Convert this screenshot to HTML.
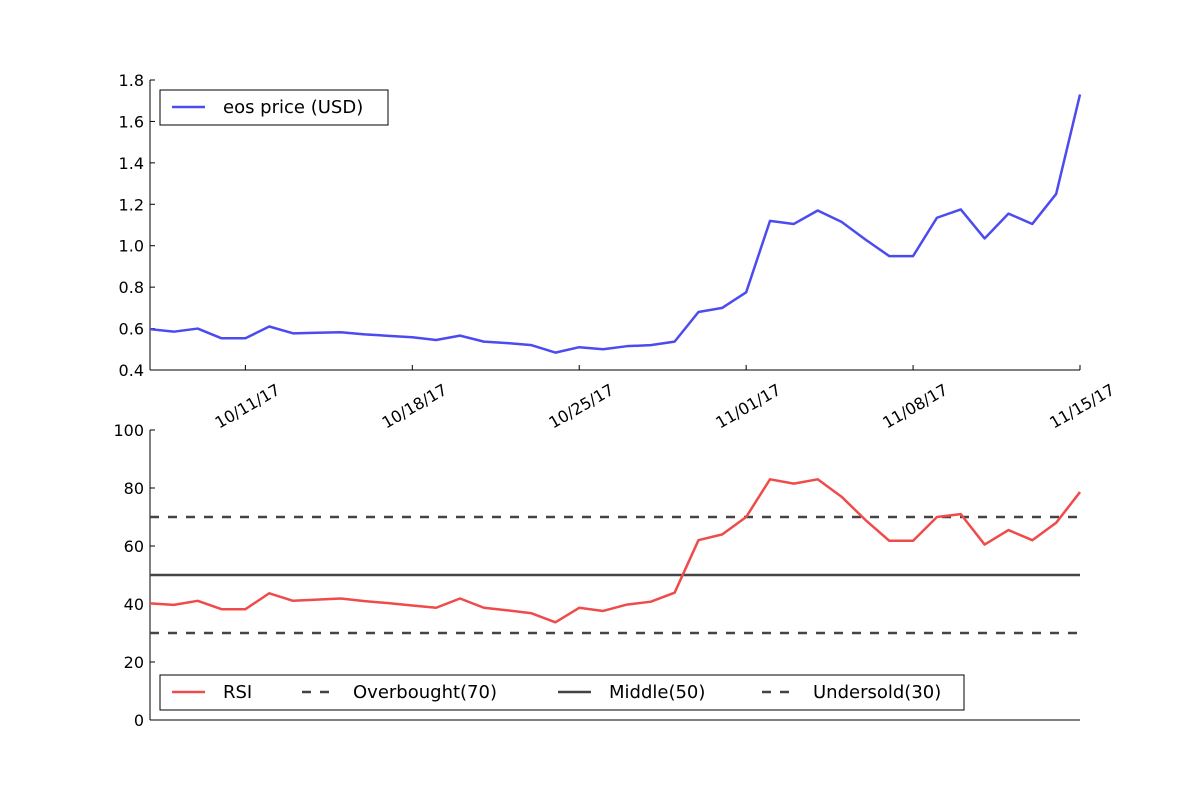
<!DOCTYPE html>
<html><head><meta charset="utf-8"><style>
body{margin:0;background:#fff}
svg{font-family:"DejaVu Sans","Liberation Sans",sans-serif}
</style></head><body>
<svg id="c" width="1200" height="800"></svg>
<script>
const dates=["10/11/17","10/18/17","10/25/17","11/01/17","11/08/17","11/15/17"];
const dateIdx=[4,11,18,25,32,39];
const price=[.597,.585,.60,.553,.553,.61,.577,.58,.582,.572,.565,.558,.545,.566,.537,.53,.52,.484,.51,.50,.515,.52,.537,.68,.70,.775,1.12,1.105,1.17,1.115,1.03,.95,.95,1.135,1.175,1.035,1.155,1.105,1.25,1.73];
const rsi=[40.2,39.7,41.1,38.2,38.2,43.7,41.1,41.5,41.9,41,40.3,39.5,38.7,41.9,38.7,37.8,36.8,33.7,38.7,37.6,39.8,40.8,43.9,62,64,70,83,81.5,83,77,69,61.8,61.8,70,71,60.5,65.5,62,68,78.6];
const priceTicks=[0.4,0.6,0.8,1.0,1.2,1.4,1.6,1.8];
const rsiTicks=[0,20,40,60,80,100];
const levels=[70,50,30];
const NS="http://www.w3.org/2000/svg",svg=document.getElementById("c");
function el(t,a,txt){const e=document.createElementNS(NS,t);for(const k in a)e.setAttribute(k,a[k]);if(txt!==undefined)e.textContent=txt;svg.appendChild(e);return e;}
const X0=150,X1=1080;
const x=i=>X0+(X1-X0)*i/(price.length-1);
const yP=v=>370-(v-0.4)/1.4*290;
const yR=v=>720-v/100*290;
let e=el("line",{x1:X0,y1:80,x2:X0,y2:370,stroke:"#000","stroke-width":1});

e=el("line",{x1:X0,y1:370,x2:X1,y2:370,stroke:"#000","stroke-width":1});

priceTicks.forEach(v=>{el("line",{x1:X0,y1:yP(v),x2:X0+5,y2:yP(v),stroke:"#000"});
e=el("text",{x:X0-6,y:yP(v)+6,"text-anchor":"end","font-size":16},v.toFixed(1));
});
dateIdx.forEach((d,k)=>{el("line",{x1:x(d),y1:370,x2:x(d),y2:365,stroke:"#000"});
const tx=x(d)+36,ty=393;
e=el("text",{x:tx,y:ty,"text-anchor":"end","font-size":16,transform:`rotate(-30 ${tx} ${ty})`},dates[k]);
});
e=el("polyline",{points:price.map((v,i)=>x(i)+","+yP(v)).join(" "),fill:"none",stroke:"#4b4bef","stroke-width":2.5,"stroke-linejoin":"round"});

e=el("rect",{x:160,y:90,width:228,height:35,fill:"#fff",stroke:"#000"});

el("line",{x1:172,y1:107,x2:205,y2:107,stroke:"#4b4bef","stroke-width":2.5});
e=el("text",{x:223,y:113,"font-size":18},"eos price (USD)");

e=el("line",{x1:X0,y1:430,x2:X0,y2:720,stroke:"#000"});

e=el("line",{x1:X0,y1:720,x2:X1,y2:720,stroke:"#000"});

rsiTicks.forEach(v=>{el("line",{x1:X0,y1:yR(v),x2:X0+5,y2:yR(v),stroke:"#000"});
e=el("text",{x:X0-6,y:yR(v)+6,"text-anchor":"end","font-size":16},String(v));
});
levels.forEach((v,k)=>{e=el("line",{x1:X0,y1:yR(v),x2:X1,y2:yR(v),stroke:"#444","stroke-width":2.5,"stroke-dasharray":v===50?"none":"9,9"});
});
e=el("polyline",{points:rsi.map((v,i)=>x(i)+","+yR(v)).join(" "),fill:"none",stroke:"#ef4b4b","stroke-width":2.5,"stroke-linejoin":"round"});

e=el("rect",{x:160,y:675,width:804,height:35,fill:"#fff",stroke:"#000"});

const leg=[["RSI","#ef4b4b","none",172,223],["Overbought(70)","#444","9,9",302,353],["Middle(50)","#444","none",558,609],["Undersold(30)","#444","9,9",762,813]];
leg.forEach(l=>{el("line",{x1:l[3],y1:692,x2:l[3]+33,y2:692,stroke:l[1],"stroke-width":2.5,"stroke-dasharray":l[2]});
e=el("text",{x:l[4],y:698,"font-size":18},l[0]);
});
</script>
</body></html>
